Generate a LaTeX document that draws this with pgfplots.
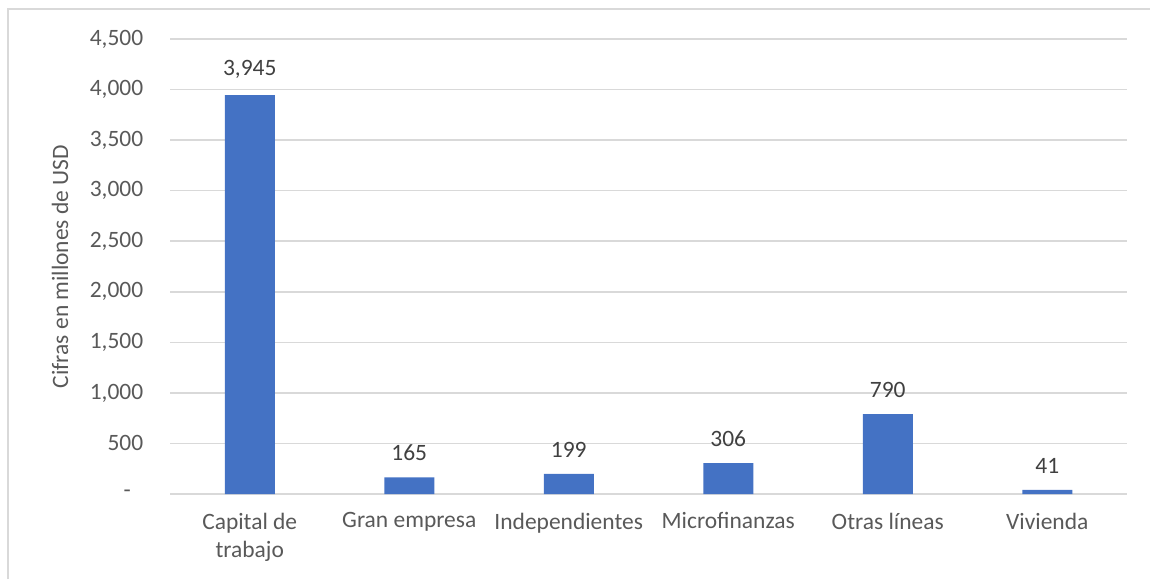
\documentclass[border=0pt]{standalone}
\usepackage{pgfplots}
\pgfplotsset{compat=1.18}
\usepackage{fontspec}
\setmainfont{Carlito}
\definecolor{barblue}{HTML}{4472C4}
\definecolor{gridgray}{HTML}{D9D9D9}
\definecolor{txtgray}{HTML}{595959}
\definecolor{lblgray}{HTML}{404040}
\begin{document}
\fontsize{17.6}{21}\selectfont
\begin{tikzpicture}
\path[use as bounding box] (0,0) rectangle (862.5pt,434.25pt);
\draw[gridgray, line width=1pt] (6pt,0) -- (6pt,427.5pt) -- (862.5pt,427.5pt);
\begin{axis}[
  at={(127.5pt,63.75pt)}, anchor=south west,
  scale only axis, width=717.75pt, height=341.25pt,
  xmin=-0.5, xmax=5.5, ymin=0, ymax=4500,
  ybar, bar width=37.5pt,
  xtick=data,
  xticklabels={{Capital de\\trabajo},Gran empresa,Independientes,Microfinanzas,Otras líneas,Vivienda},
  xticklabel style={align=center, text=txtgray, font=\fontsize{17.6}{21}\selectfont, yshift=-8pt},
  ytick={0,500,1000,1500,2000,2500,3000,3500,4000,4500},
  yticklabels={{},500,{1,000},{1,500},{2,000},{2,500},{3,000},{3,500},{4,000},{4,500}},
  yticklabel style={text=txtgray, font=\fontsize{17.6}{21}\selectfont, xshift=-14pt},
  major tick length=0pt,
  ymajorgrids, major grid style={gridgray, line width=1.1pt},
  axis line style={draw=none},
  ylabel={Cifras en millones de USD},
  ylabel style={at={(axis description cs:-0.115,0.5)}, anchor=center, rotate=0, text=txtgray, font=\fontsize{17.6}{21}\selectfont},
  nodes near coords,
  nodes near coords style={text=lblgray, font=\fontsize{17.6}{21}\selectfont, anchor=south, yshift=6.5pt,
    /pgf/number format/.cd, 1000 sep={,}, fixed, precision=0, assume math mode=true},
  /pgf/number format/assume math mode=true,
  clip=false,
]
\addplot[fill=barblue, draw=none] coordinates {(0,3945) (1,165) (2,199) (3,306) (4,790) (5,41)};
\node[text=txtgray, font=\fontsize{17.6}{21}\selectfont, anchor=center] at ([xshift=-32pt]axis cs:-0.5,0) {-};
\end{axis}
\end{tikzpicture}
\end{document}
